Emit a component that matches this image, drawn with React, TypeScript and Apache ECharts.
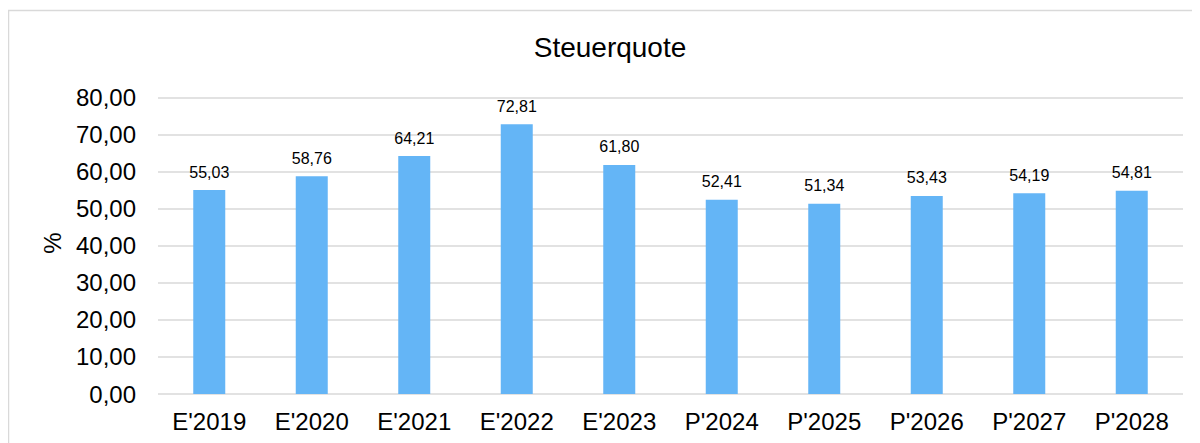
import React, { useEffect, useRef } from "react";
import * as echarts from "echarts";

const categories = ["E'2019", "E'2020", "E'2021", "E'2022", "E'2023", "P'2024", "P'2025", "P'2026", "P'2027", "P'2028"];
const values = [55.03, 58.76, 64.21, 72.81, 61.8, 52.41, 51.34, 53.43, 54.19, 54.81];
const titleText = "Steuerquote";
const yAxisName = "%";

const fmt = (v: number) => v.toFixed(2).replace(".", ",");
const FONT = "'Liberation Sans', Arial, sans-serif";

export default function App() {
  const ref = useRef<HTMLDivElement>(null);
  useEffect(() => {
    if (!ref.current) return;
    const chart = echarts.init(ref.current, undefined, { renderer: "svg" });
    chart.setOption({
      animation: false,
      backgroundColor: "#ffffff",
      grid: { left: 150, right: 17, top: 89.5, bottom: 49, containLabel: false },
      graphic: [
        {
          type: "rect",
          shape: { x: 0.5, y: 2.5, width: 1400, height: 600 },
          style: { fill: "none", stroke: "#d9d9d9", lineWidth: 1.5 },
          silent: true,
          z: -1,
        },
        {
          type: "text",
          x: 602,
          y: 39,
          style: {
            text: titleText,
            fill: "#000000",
            font: `28px ${FONT}`,
            align: "center",
            verticalAlign: "middle",
          },
        },
        {
          type: "text",
          x: 44,
          y: 235,
          rotation: Math.PI / 2,
          style: {
            text: yAxisName,
            fill: "#000000",
            font: `24px ${FONT}`,
            align: "center",
            verticalAlign: "middle",
          },
        },
      ],
      xAxis: {
        type: "category",
        data: categories,
        axisLine: { show: false },
        axisTick: { show: false },
        axisLabel: { color: "#000000", fontSize: 24, fontFamily: FONT, margin: 15 },
      },
      yAxis: {
        type: "value",
        min: 0,
        max: 80,
        interval: 10,
        axisLine: { show: false },
        axisTick: { show: false },
        splitLine: { lineStyle: { color: "#d9d9d9", width: 1.5 } },
        axisLabel: {
          color: "#000000",
          fontSize: 24,
          fontFamily: FONT,
          margin: 22,
          formatter: (v: number) => fmt(v),
        },
      },
      series: [
        {
          type: "bar",
          data: values,
          barWidth: 32,
          itemStyle: { color: "#64b5f6" },
          label: {
            show: true,
            position: "top",
            distance: 10,
            color: "#000000",
            fontSize: 16,
            fontFamily: FONT,
            formatter: (p: any) => fmt(p.value),
          },
        },
      ],
    });
    return () => chart.dispose();
  }, []);
  return <div ref={ref} style={{ width: 1192, height: 435 }} />;
}
